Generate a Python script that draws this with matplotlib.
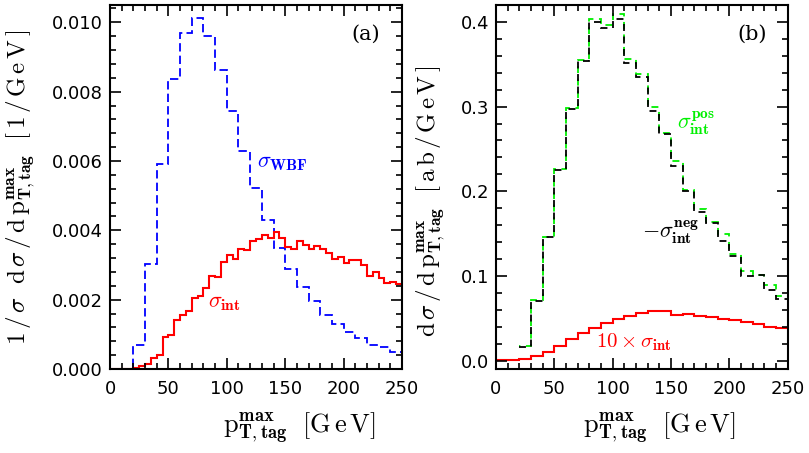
import numpy as np
import matplotlib
matplotlib.use("Agg")
import matplotlib.pyplot as plt
from matplotlib.ticker import MultipleLocator, FormatStrFormatter

# ------------------------------------------------------------------
# data (bin contents)
# ------------------------------------------------------------------
# panel (a): normalised distributions
wbf_edges = np.arange(0, 251, 10)
wbf_vals = [0.0, 0.0, 0.00068, 0.00302, 0.00591, 0.00837, 0.00968, 0.01013,
            0.00962, 0.00863, 0.00745, 0.00629, 0.00523, 0.00430, 0.00348,
            0.00289, 0.00237, 0.00196, 0.00157, 0.00130, 0.00107, 0.00090,
            0.00069, 0.00063, 0.00050]

int_edges = np.arange(0, 251, 5)
int_vals = [0.0, 0.0, 0.0, 0.0,
            0.00003, 0.00008, 0.00015, 0.00033, 0.00039, 0.00093, 0.00098,
            0.00141, 0.00155, 0.00166, 0.00205, 0.00212, 0.00234, 0.00268,
            0.00265, 0.00308, 0.00328, 0.00316, 0.00347, 0.00342, 0.00369,
            0.00374, 0.00387, 0.00378, 0.00395, 0.00378, 0.00352, 0.00347,
            0.00369, 0.00357, 0.00345, 0.00354, 0.00347, 0.00334, 0.00318,
            0.00323, 0.00305, 0.00315, 0.00315, 0.00300, 0.00268, 0.00279,
            0.00262, 0.00248, 0.00252, 0.00244]

# panel (b): absolute distributions [ab/GeV]
pn_edges = np.arange(20, 251, 10)
neg_vals = [0.016, 0.0706, 0.1457, 0.225, 0.297, 0.354, 0.400, 0.393, 0.403,
            0.351, 0.335, 0.295, 0.268, 0.230, 0.200, 0.175, 0.163, 0.141,
            0.124, 0.100, 0.101, 0.0835, 0.0727]
pos_vals = [0.017, 0.071, 0.146, 0.226, 0.298, 0.355, 0.404, 0.396, 0.409,
            0.356, 0.338, 0.299, 0.269, 0.236, 0.2015, 0.179, 0.164, 0.150,
            0.126, 0.106, 0.101, 0.089, 0.076]

int10_edges = np.arange(0, 251, 10)
int10_vals = [0.001, 0.001, 0.002, 0.0048, 0.0106, 0.0177, 0.0252, 0.0323,
              0.0382, 0.0441, 0.049, 0.053, 0.056, 0.058, 0.059, 0.054, 0.055,
              0.053, 0.052, 0.049, 0.048, 0.046, 0.043, 0.040, 0.039]

# ------------------------------------------------------------------
plt.rcParams['mathtext.fontset'] = 'cm'
plt.rcParams['lines.scale_dashes'] = False
plt.rcParams['font.family'] = ['DejaVu Sans']

BLUE = '#0000ff'
RED = '#ff0000'
GREEN = '#00f000'

XLABEL = r'$\mathrm{p}^{\mathbf{max}}_{\mathbf{T,tag}}\ \ [\mathrm{G\,e\,V}]$'
YLABEL_A = (r'$1\,/\,\sigma\ \ \mathrm{d}\,\sigma\,/\,\mathrm{d\,p}^{\mathbf{max}}_{\mathbf{T,tag}}'
            r'\ \ [\,1\,/\,\mathrm{G\,e\,V}\,]$')
YLABEL_B = (r'$\mathrm{d}\,\sigma\,/\,\mathrm{d\,p}^{\mathbf{max}}_{\mathbf{T,tag}}'
            r'\ \ [\,\mathrm{a\,b}\,/\,\mathrm{G\,e\,V}\,]$')

fig = plt.figure(figsize=(8.09, 4.53), dpi=100)
ax1 = fig.add_axes([110/809, 84/453, 292/809, 364/453])
ax2 = fig.add_axes([496/809, 84/453, 291.7/809, 364/453])


def style_axis(ax):
    for sp in ax.spines.values():
        sp.set_linewidth(1.5)
    ax.tick_params(which='both', direction='in', top=True, right=True,
                   labelsize=13, width=1.2)
    ax.tick_params(axis='x', which='major', pad=8)
    ax.tick_params(axis='y', which='major', pad=5)
    ax.tick_params(which='major', length=8)
    ax.tick_params(which='minor', length=4.5)
    ax.set_xlim(0, 250)
    ax.xaxis.set_major_locator(MultipleLocator(50))
    ax.xaxis.set_minor_locator(MultipleLocator(10))


# --- panel (a) ---
style_axis(ax1)
ax1.stairs(wbf_vals, wbf_edges, baseline=None, color=BLUE, lw=1.3,
           linestyle=(0, (6, 3)))
ax1.stairs(int_vals, int_edges, baseline=None, color=RED, lw=1.5)
ax1.set_ylim(0, 0.0105)
ax1.yaxis.set_major_locator(MultipleLocator(0.002))
ax1.yaxis.set_minor_locator(MultipleLocator(0.0004))
ax1.yaxis.set_major_formatter(FormatStrFormatter('%.3f'))
ax1.set_ylabel(YLABEL_A, fontsize=18)
ax1.yaxis.set_label_coords(-0.25, 0.5)
ax1.set_xlabel(XLABEL, fontsize=19)
ax1.xaxis.set_label_coords(0.65, -0.115)
ax1.text(207, 0.00965, '(a)', fontsize=15, family='DejaVu Serif',
         ha='left', va='center')
ax1.text(126, 0.00594, r'$\sigma_{\mathbf{WBF}}$', color=BLUE, fontsize=16,
         ha='left', va='center')
ax1.text(84, 0.00191, r'$\sigma_{\mathbf{int}}$', color=RED, fontsize=16,
         ha='left', va='center')

# --- panel (b) ---
style_axis(ax2)
ax2.stairs(int10_vals, int10_edges, baseline=None, color=RED, lw=1.5)
ax2.stairs(pos_vals, pn_edges, baseline=None, color=GREEN, lw=1.3,
           linestyle=(4, (5, 4)))
ax2.stairs(neg_vals, pn_edges, baseline=None, color='black', lw=1.3,
           linestyle=(0, (5, 4)))
ax2.set_ylim(-0.01, 0.42)
ax2.yaxis.set_major_locator(MultipleLocator(0.1))
ax2.yaxis.set_minor_locator(MultipleLocator(0.02))
ax2.yaxis.set_major_formatter(FormatStrFormatter('%.1f'))
ax2.set_ylabel(YLABEL_B, fontsize=18)
ax2.yaxis.set_label_coords(-0.168, 0.46)
ax2.set_xlabel(XLABEL, fontsize=19)
ax2.xaxis.set_label_coords(0.56, -0.115)
ax2.text(207, 0.385, '(b)', fontsize=15, family='DejaVu Serif',
         ha='left', va='center')
ax2.text(155, 0.28, r'$\sigma^{\mathbf{pos}}_{\mathbf{int}}$', color=GREEN,
         fontsize=16, ha='left', va='center')
ax2.text(125, 0.151, r'$-\sigma^{\mathbf{neg}}_{\mathbf{int}}$', color='black',
         fontsize=16, ha='left', va='center')
ax2.text(86, 0.022, r'$10\times\sigma_{\mathbf{int}}$', color=RED,
         fontsize=15, ha='left', va='center')

fig.savefig('out.png', dpi=100)
